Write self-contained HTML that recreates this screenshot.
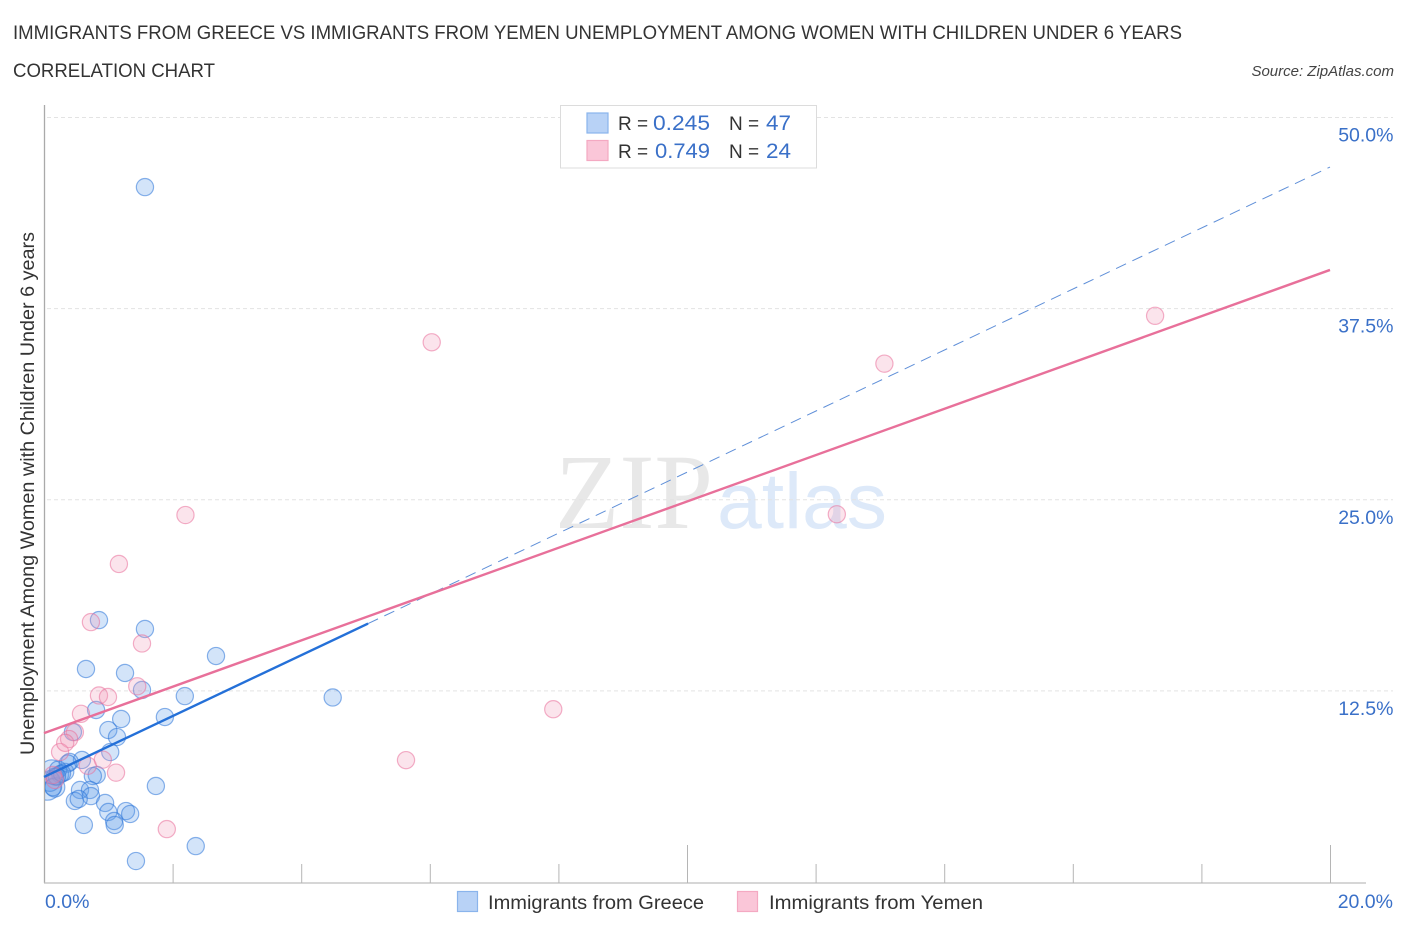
<!DOCTYPE html>
<html lang="en">
<head>
<meta charset="utf-8">
<title>Immigrants from Greece vs Immigrants from Yemen correlation chart</title>
<style>
html,body{margin:0;padding:0;background:#fff;}
svg{display:block;font-family:"Liberation Sans",sans-serif;}
</style>
</head>
<body>
<svg id="chart" width="1406" height="930" viewBox="0 0 1406 930" xmlns="http://www.w3.org/2000/svg">
  <defs>
    <clipPath id="plot-clip"><rect x="45" y="100" width="1300" height="783"></rect></clipPath>
  </defs>
  <rect x="0" y="0" width="1406" height="930" fill="#ffffff"></rect>

  <text x="13" y="39" font-size="19" fill="#333333" textLength="1169" lengthAdjust="spacingAndGlyphs">IMMIGRANTS FROM GREECE VS IMMIGRANTS FROM YEMEN UNEMPLOYMENT AMONG WOMEN WITH CHILDREN UNDER 6 YEARS</text>
  <text x="13" y="77" font-size="19" fill="#333333" textLength="202" lengthAdjust="spacingAndGlyphs">CORRELATION CHART</text>
  <text x="1394" y="76" font-size="15" font-style="italic" fill="#444444" text-anchor="end">Source: ZipAtlas.com</text>

  <g>
    <text x="555" y="528" font-family="'Liberation Serif',serif" font-size="107" fill="#e8e8e8" textLength="158" lengthAdjust="spacingAndGlyphs">ZIP</text>
    <text x="717" y="528" font-family="'Liberation Sans',sans-serif" font-size="79" fill="#dde9f9" textLength="170" lengthAdjust="spacingAndGlyphs">atlas</text>
  </g>

  <g id="grid"></g>
  <g id="axes"></g>
  <g id="points" clip-path="url(#plot-clip)"></g>
  <g id="trend-over"></g>
  <g id="labels"></g>

  <text transform="translate(34 755) rotate(-90)" x="0" y="0" font-size="19" fill="#333333" textLength="523" lengthAdjust="spacingAndGlyphs">Unemployment Among Women with Children Under 6 years</text>

  <g>
    <rect x="560.5" y="105.5" width="256" height="62.5" fill="#ffffff" stroke="#dcdcdc"></rect>
    <rect x="587" y="113" width="21" height="20" fill="#b8d2f6" stroke="#8ab4ec" stroke-width="1.2"></rect>
    <rect x="587" y="140.5" width="21" height="20" fill="#fac6d8" stroke="#f4a9c2" stroke-width="1.2"></rect>
    <text x="618" y="130" font-size="19" fill="#333333">R =</text>
    <text x="653" y="130" font-size="21" fill="#3a70c8" textLength="57" lengthAdjust="spacingAndGlyphs">0.245</text>
    <text x="729" y="130" font-size="19" fill="#333333">N =</text>
    <text x="766" y="130" font-size="21" fill="#3a70c8" textLength="25" lengthAdjust="spacingAndGlyphs">47</text>
    <text x="618" y="158" font-size="19" fill="#333333">R =</text>
    <text x="655" y="158" font-size="21" fill="#3a70c8" textLength="55" lengthAdjust="spacingAndGlyphs">0.749</text>
    <text x="729" y="158" font-size="19" fill="#333333">N =</text>
    <text x="766" y="158" font-size="21" fill="#3a70c8" textLength="25" lengthAdjust="spacingAndGlyphs">24</text>
  </g>

  <g>
    <rect x="457.5" y="891.5" width="20" height="20" fill="#b8d2f6" stroke="#8ab4ec" stroke-width="1.2"></rect>
    <text x="488" y="909" font-size="19" fill="#333333" textLength="216" lengthAdjust="spacingAndGlyphs">Immigrants from Greece</text>
    <rect x="737.5" y="891.5" width="20" height="20" fill="#fac6d8" stroke="#f4a9c2" stroke-width="1.2"></rect>
    <text x="769" y="909" font-size="19" fill="#333333" textLength="214" lengthAdjust="spacingAndGlyphs">Immigrants from Yemen</text>
  </g>
</svg>

<script>
// Data, in chart units (x: percent immigrants, y: percent unemployment)
const greeceX = [1.57,0.855,1.57,2.675,0.653,1.26,1.524,2.19,4.49,0.81,1.2,1.88,1.0,1.135,0.45,1.03,0.59,0.40,0.82,0.76,1.74,0.56,0.715,0.73,0.48,0.54,0.95,1.0,1.275,1.34,1.09,1.1,0.62,2.36,1.43,0.05,0.17,0.12,0.25,0.33,0.22,0.17,0.37,0.09,0.14,0.28,0.20];
const greeceY = [45.45,17.13,16.55,14.78,13.93,13.67,12.56,12.16,12.07,11.25,10.66,10.79,9.94,9.48,9.81,8.5,7.98,7.85,7.0,6.93,6.28,6.02,6.02,5.62,5.3,5.43,5.17,4.58,4.64,4.45,3.99,3.73,3.73,2.35,1.37,6.25,6.2,7.2,7.05,7.2,7.35,6.9,7.75,6.6,6.2,7.1,6.9];
const greeceWeight = [1,1,1,1,1,1,1,1,1,1,1,1,1,1,1,1,1,1,1,1,1,1,1,1,1,1,1,1,1,1,1,1,1,1,1,1.6,1.15,1.4,1,1,1,1,1,1.2,1,1,1];
const yemenX = [6.03,13.07,17.28,2.2,12.33,1.165,0.73,1.524,1.45,0.855,0.995,0.575,7.92,0.48,0.39,0.25,0.33,5.63,0.68,0.915,1.12,1.91,0.14,0.17];
const yemenY = [35.3,33.9,37.03,24.0,24.05,20.8,17.0,15.6,12.8,12.2,12.1,11.0,11.3,9.8,9.35,8.5,9.1,7.97,7.6,8.0,7.15,3.46,7.0,6.67];
const yemenWeight = [1,1,1,1,1,1,1,1,1,1,1,1,1,1,1,1,1,1,1,1,1,1,1,1];
const greeceTrendX = [0,5.04,20];
const greeceTrendY = [6.87,16.9,46.76];
const yemenTrendX = [0,20];
const yemenTrendY = [9.74,40.03];
const yTickValues = [12.5,25,37.5,50];
const yTickLabels = ["12.5%","25.0%","37.5%","50.0%"];
const xTickValues = [2,4,6,8,10,12,14,16,18,20];
const xMajorTicks = [10,20];
const xEndLabels = ["0.0%","20.0%"];
const xEndValues = [0,20];

// Axis functions
const xScale = v => 44 + v * 64.3;
const yScale = v => 882 - v * 15.29;

const NS = "http://www.w3.org/2000/svg";
function make(parent, tag, attrs, text) {
  const el = document.createElementNS(NS, tag);
  Object.keys(attrs).forEach(k => el.setAttribute(k, attrs[k]));
  if (text !== undefined) el.textContent = text;
  parent.appendChild(el);
  return el;
}
const grid = document.getElementById("grid");
const axes = document.getElementById("axes");
const labels = document.getElementById("labels");
const pointsLayer = document.getElementById("points");
const trendOver = document.getElementById("trend-over");

yTickValues.forEach((v, i) => {
  const line = make(grid, "line", {x1: 47, x2: 1393, y1: yScale(v), y2: yScale(v), stroke: "#e3e3e3", "stroke-width": 1, "stroke-dasharray": "4 3"});
  
  
  const label = make(labels, "text", {x: 1393.5, y: yScale(v) + 24, "text-anchor": "end", "font-size": 19.5, fill: "#3a70c8"}, yTickLabels[i]);
  
  
});

const yAxis = make(axes, "line", {x1: 44.5, x2: 44.5, y1: 105, y2: 883, stroke: "#aaaaaa", "stroke-width": 1.3});


const xAxis = make(axes, "line", {x1: 44, x2: 1366, y1: 883, y2: 883, stroke: "#bdbdbd", "stroke-width": 1.3});



xTickValues.forEach(v => {
  const major = xMajorTicks.indexOf(v) >= 0;
  const tick = make(axes, "line", {x1: xScale(v) + 0.5, x2: xScale(v) + 0.5, y1: major ? 845 : 864, y2: 883, stroke: "#b5b5b5", "stroke-width": 1});
  
  
});

xEndValues.forEach((v, i) => {
  const label = make(labels, "text", {x: i === 0 ? xScale(v) + 1 : xScale(v) + 63, y: 908, "text-anchor": i === 0 ? "start" : "end", "font-size": 19.5, fill: "#3a70c8"}, xEndLabels[i]);
  
  
});

function drawPoints(xs, ys, weights, fill, stroke) {
  xs.forEach((x, i) => {
    const c = make(pointsLayer, "circle", {cx: xScale(x), cy: yScale(ys[i]), r: 8.6 * weights[i], fill: fill, "fill-opacity": 0.27, stroke: stroke, "stroke-opacity": 0.55, "stroke-width": 1.2});
    
    
  });
}
drawPoints(greeceX, greeceY, greeceWeight, "#5b9bea", "#2c74d8");
drawPoints(yemenX, yemenY, yemenWeight, "#f29ab8", "#e9709a");

const dashed = make(trendOver, "line", {x1: xScale(greeceTrendX[1]), y1: yScale(greeceTrendY[1]), x2: xScale(greeceTrendX[2]), y2: yScale(greeceTrendY[2]), stroke: "#5f8fd8", "stroke-width": 1, "stroke-dasharray": "11 7"});


const solid = make(trendOver, "line", {x1: xScale(greeceTrendX[0]), y1: yScale(greeceTrendY[0]), x2: xScale(greeceTrendX[1]), y2: yScale(greeceTrendY[1]), stroke: "#2470d8", "stroke-width": 2.4});


const pink = make(trendOver, "line", {x1: xScale(yemenTrendX[0]), y1: yScale(yemenTrendY[0]), x2: xScale(yemenTrendX[1]), y2: yScale(yemenTrendY[1]), stroke: "#e8709a", "stroke-width": 2.4});


</script>
</body>
</html>
